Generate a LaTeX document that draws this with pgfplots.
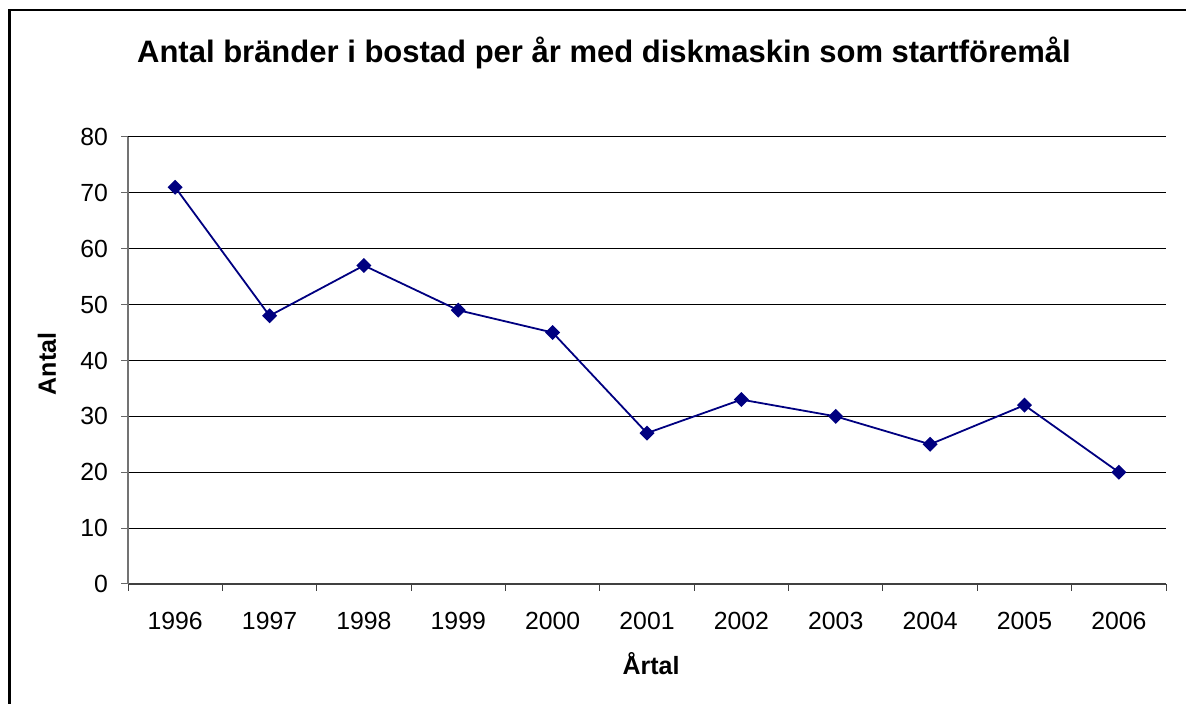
\documentclass[border=0pt]{standalone}
\usepackage{pgfplots}
\pgfplotsset{compat=1.18}
\usepackage{fontspec}
\setmainfont{Liberation Sans}
\definecolor{navy}{HTML}{000080}
\begin{document}
\begin{tikzpicture}[x=0.5pt,y=0.5pt]
\path[use as bounding box] (0,0) rectangle (1186,704);
\draw[line width=1.1pt] (9.5,0) -- (9.5,694) -- (1186,694);
\begin{axis}[
  at={(64pt,60pt)}, anchor=south west,
  scale only axis, width=519pt, height=223.5pt,
  xmin=-0.5, xmax=10.5, ymin=0, ymax=80,
  axis lines*=left,
  x axis line style={black!75, line width=0.6pt},
  y axis line style={black!55, line width=0.6pt},
  xtick={0,...,10},
  xticklabels={1996,1997,1998,1999,2000,2001,2002,2003,2004,2005,2006},
  major x tick style={draw=none},
  minor xtick={-0.5,0.5,...,10.5},
  minor x tick style={black!75, line width=0.5pt},
  minor tick length=3.5pt,
  ytick={0,10,...,80},
  y tick style={black!60, line width=0.5pt},
  major tick length=3.5pt,
  tick align=outside,
  ymajorgrids,
  major grid style={black, line width=0.5pt},
  /pgf/number format/assume math mode=true,
  tick label style={font=\fontsize{12.4}{14}\selectfont},
  xticklabel style={yshift=-7pt},
  yticklabel style={xshift=-3pt},
  title={\textbf{Antal bränder i bostad per år med diskmaskin som startföremål}},
  title style={at={(rel axis cs:0.4586,1.161)}, anchor=center, font=\fontsize{15.5}{18}\selectfont},
  xlabel={\textbf{Årtal}},
  ylabel={\textbf{Antal}},
  every axis x label/.style={at={(rel axis cs:0.5039,-0.178)}, anchor=center, font=\fontsize{12.5}{14}\selectfont},
  every axis y label/.style={at={(rel axis cs:-0.078,0.492)}, rotate=90, anchor=center, font=\fontsize{12.5}{14}\selectfont},
]
\addplot[navy, line width=0.9pt, mark=square*, mark size=2.2pt, mark options={solid, rotate=45, fill=navy, draw=navy}]
coordinates {(0,71) (1,48) (2,57) (3,49) (4,45) (5,27) (6,33) (7,30) (8,25) (9,32) (10,20)};
\end{axis}
\end{tikzpicture}
\end{document}
